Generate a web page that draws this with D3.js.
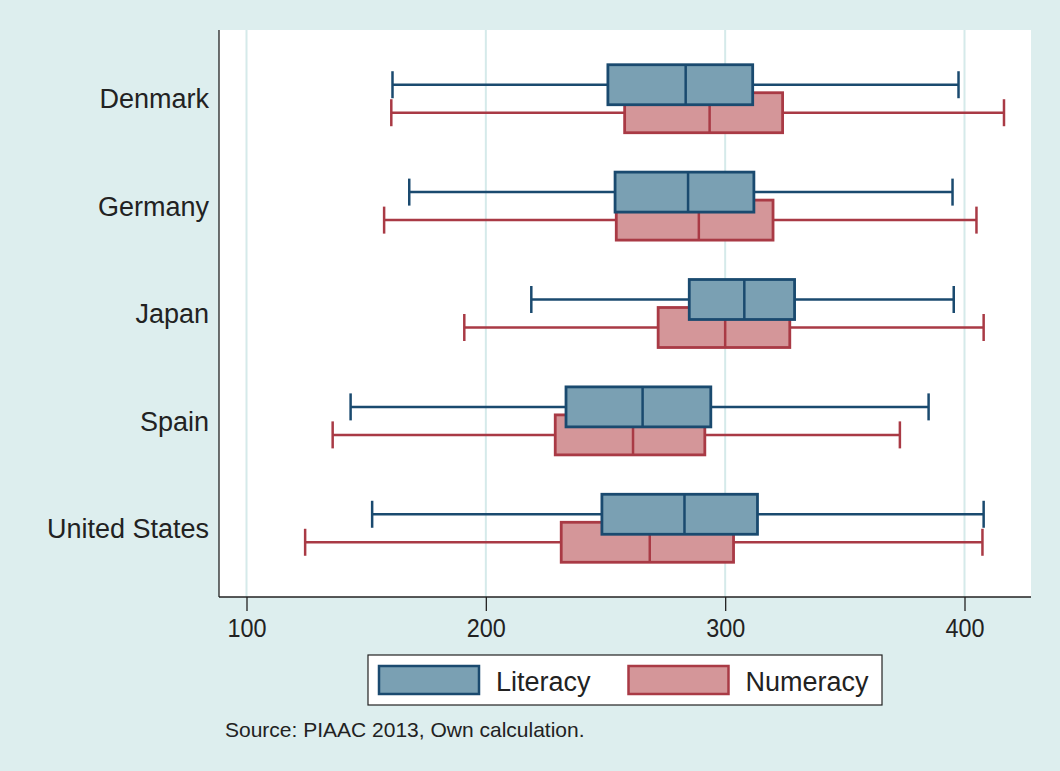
<!DOCTYPE html>
<html>
<head>
<meta charset="utf-8">
<script src="https://cdn.jsdelivr.net/npm/d3@7"></script>
<style>
  body { margin: 0; background: #ddeeee; }
  svg { display: block; font-family: 'Liberation Sans', Arial, sans-serif; }
</style>
</head>
<body>
<svg id="chart" width="1060" height="771"></svg>
<script>
'use strict';

// categories and series
var countries = ['Denmark', 'Germany', 'Japan', 'Spain', 'United States'];
var series = ['Literacy', 'Numeracy'];
var xTicks = [100, 200, 300, 400];

// [lower whisker, q1, median, q3, upper whisker] per country
var literacy = [
  [161, 251, 283.5, 311.5, 397.5],
  [168, 254, 284.5, 312, 395],
  [219, 285, 308, 329, 395.5],
  [143.5, 233.5, 265.5, 294, 385],
  [152.5, 248.5, 283, 313.5, 408]
];
var numeracy = [
  [160.5, 258, 293.5, 324, 416.5],
  [157.5, 254.5, 289, 320, 405],
  [191, 272, 300, 327, 408],
  [136, 229, 261.5, 291.5, 373],
  [124.5, 231.5, 268.5, 303.5, 407.5]
];

var styles = {
  Literacy: { fill: '#7aa0b3', stroke: '#1a4a6f' },
  Numeracy: { fill: '#d49699', stroke: '#a93a45' }
};

var svg = d3.select('#chart'),
    margin = { left: 219, right: 1031, top: 30, bottom: 597 };

svg.append('rect')
    .attr('width', 1060).attr('height', 771)
    .attr('fill', '#ddeeee');

svg.append('rect')
    .attr('x', margin.left).attr('y', margin.top)
    .attr('width', margin.right - margin.left)
    .attr('height', margin.bottom - margin.top)
    .attr('fill', '#ffffff');

var x = d3.scaleLinear()
    .domain([100, 400])
    .range([246.5, 964.5]);

var y = d3.scalePoint()
    .domain(countries)
    .range([margin.top, margin.bottom])
    .padding(0.64);

var offset = d3.scalePoint()
    .domain(series)
    .range([-14, 14]);

var boxH = 40,
    capH = 27;

// grid lines
svg.append('g')
  .selectAll('line')
  .data(xTicks)
  .join('line')
    .attr('x1', function (d) { return x(d); })
    .attr('x2', function (d) { return x(d); })
    .attr('y1', margin.top)
    .attr('y2', margin.bottom)
    .attr('stroke', '#d5eaea')
    .attr('stroke-width', 2);

// boxes, numeracy first so literacy sits on top
[['Numeracy', numeracy], ['Literacy', literacy]].forEach(function (s) {
  var name = s[0],
      data = s[1],
      st = styles[name],
      g = svg.append('g').attr('class', name);

  data.forEach(function (v, i) {
    var cy = y(countries[i]) + offset(name),
        el = g.append('g');

    el.append('line')
        .attr('x1', x(v[0])).attr('x2', x(v[4]))
        .attr('y1', cy).attr('y2', cy)
        .attr('stroke', st.stroke).attr('stroke-width', 2.5);
    [v[0], v[4]].forEach(function (w) {
      el.append('line')
          .attr('x1', x(w)).attr('x2', x(w))
          .attr('y1', cy - capH / 2).attr('y2', cy + capH / 2)
          .attr('stroke', st.stroke).attr('stroke-width', 2.5);
    });
    el.append('rect')
        .attr('x', x(v[1])).attr('y', cy - boxH / 2)
        .attr('width', x(v[3]) - x(v[1])).attr('height', boxH)
        .attr('fill', st.fill)
        .attr('stroke', st.stroke).attr('stroke-width', 2.8);
    el.append('line')
        .attr('x1', x(v[2])).attr('x2', x(v[2]))
        .attr('y1', cy - boxH / 2).attr('y2', cy + boxH / 2)
        .attr('stroke', st.stroke).attr('stroke-width', 2.5);
  });
});

// axes
var xAxis = svg.append('g')
    .attr('transform', 'translate(0,' + margin.bottom + ')')
    .call(d3.axisBottom(x).tickValues(xTicks).tickSize(14).tickPadding(8));
xAxis.select('.domain').remove();
xAxis.selectAll('line').attr('stroke', '#222').attr('stroke-width', 1.3);
xAxis.selectAll('text')
    .attr('font-size', 26).attr('fill', '#222')
    .attr('font-family', "'Liberation Sans', Arial, sans-serif")
    .attr('transform', 'scale(0.9,1)');

svg.append('line')
    .attr('x1', margin.left).attr('x2', margin.right)
    .attr('y1', margin.bottom).attr('y2', margin.bottom)
    .attr('stroke', '#222').attr('stroke-width', 1.3);
svg.append('line')
    .attr('x1', margin.left).attr('x2', margin.left)
    .attr('y1', margin.top).attr('y2', margin.bottom)
    .attr('stroke', '#222').attr('stroke-width', 1.3);

svg.append('g')
  .selectAll('text')
  .data(countries)
  .join('text')
    .attr('x', 209)
    .attr('y', function (d) { return y(d); })
    .attr('dy', '0.36em')
    .attr('text-anchor', 'end')
    .attr('font-size', 27)
    .attr('fill', '#222')
    .text(function (d) { return d; });

// legend
var legend = svg.append('g');
legend.append('rect')
    .attr('x', 368).attr('y', 655)
    .attr('width', 514).attr('height', 50)
    .attr('fill', '#ffffff')
    .attr('stroke', '#222').attr('stroke-width', 1.2);

var legendX = d3.scaleOrdinal().domain(series).range([379, 628.5]);
series.forEach(function (name) {
  var lx = legendX(name);
  legend.append('rect')
      .attr('x', lx).attr('y', 666)
      .attr('width', 100).attr('height', 28)
      .attr('fill', styles[name].fill)
      .attr('stroke', styles[name].stroke).attr('stroke-width', 2.5);
  legend.append('text')
      .attr('x', lx + 117).attr('y', 681)
      .attr('dy', '0.36em')
      .attr('font-size', 27)
      .attr('fill', '#222')
      .text(name);
});

svg.append('text')
    .attr('x', 225).attr('y', 737)
    .attr('font-size', 21)
    .attr('fill', '#222')
    .text('Source: PIAAC 2013, Own calculation.');
</script>
</body>
</html>
